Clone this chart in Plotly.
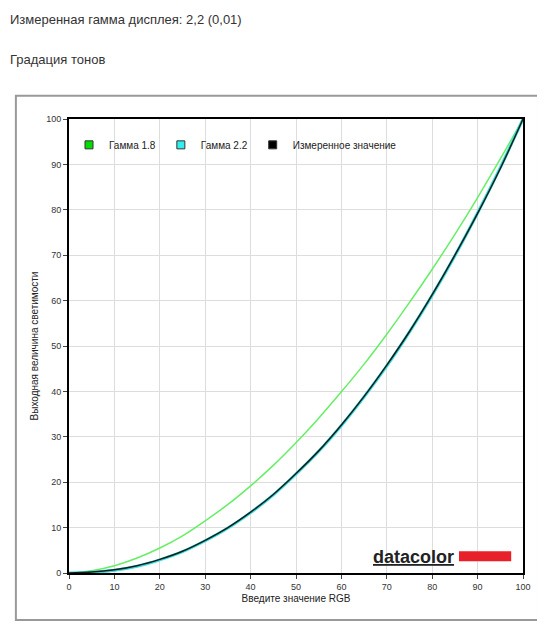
import plotly.graph_objects as go

rgb = [0, 5, 10, 15, 20, 25, 30, 35, 40, 45, 50, 55, 60, 65, 70, 75, 80, 85, 90, 95, 100]
gamma18 = [0, 0.5, 1.6, 3.3, 5.5, 8.2, 11.5, 15.1, 19.2, 23.7, 28.7, 34.1, 39.9, 46.0, 52.6, 59.6, 66.9, 74.6, 82.7, 91.2, 100]
gamma22 = [0, 0.15, 0.6, 1.5, 2.9, 4.7, 7.1, 9.9, 13.3, 17.2, 21.8, 26.8, 32.5, 38.8, 45.6, 53.1, 61.2, 69.9, 79.3, 89.3, 100]
measured = [0, 0.2, 0.7, 1.6, 3.0, 4.8, 7.2, 10.0, 13.4, 17.3, 21.9, 26.9, 32.6, 38.9, 45.8, 53.2, 61.3, 70.0, 79.2, 89.1, 100]

fig = go.Figure()
fig.add_trace(go.Scatter(x=rgb, y=gamma18, mode="lines", line=dict(color="#66ee66", width=1.5, shape="spline"), showlegend=False))
fig.add_trace(go.Scatter(x=rgb, y=gamma22, mode="lines", line=dict(color="#33dddd", width=3, shape="spline"), showlegend=False))
fig.add_trace(go.Scatter(x=rgb, y=measured, mode="lines", line=dict(color="#1a1a1a", width=1.5, shape="spline"), showlegend=False))

# legend entries with square markers
for name, col in [("Гамма 1.8", "#00dd00"), ("Гамма 2.2", "#33eeee"), ("Измеренное значение", "#000000")]:
    fig.add_trace(go.Scatter(x=[None], y=[None], mode="markers", name=name,
                             marker=dict(symbol="square", size=8, color=col, line=dict(color="#333", width=1))))

# outer frame
fig.add_shape(type="rect", xref="paper", yref="paper", x0=-0.117, x1=1.033, y0=-0.1035, y1=1.051,
              line=dict(color="#999", width=2), layer="below")

# datacolor logo
fig.add_annotation(x=75.8, y=3.6, xref="x", yref="y", text="<b><u>datacolor</u></b>", showarrow=False,
                   font=dict(family="Liberation Sans", size=18, color="#222"))
fig.add_shape(type="rect", x0=85.9, x1=97.4, y0=2.6, y1=4.8, fillcolor="#e8202a", line=dict(width=0))

fig.add_annotation(x=0, y=1, xref="paper", yref="paper", xanchor="left", yanchor="top", showarrow=False,
                   text="Измеренная гамма дисплея: 2,2 (0,01)", font=dict(size=13, color="#333"),
                   xshift=-61, yshift=109)
fig.add_annotation(x=0, y=1, xref="paper", yref="paper", xanchor="left", yanchor="top", showarrow=False,
                   text="Градация тонов", font=dict(size=13, color="#333"),
                   xshift=-61, yshift=69)

axis = dict(range=[0, 100], dtick=10, showgrid=True, gridcolor="#dddddd", ticks="outside", ticklen=4,
            showline=True, linecolor="#000", linewidth=2, mirror=True, zeroline=False, automargin=False,
            tickfont=dict(size=9, color="#333"), fixedrange=True)
fig.update_layout(
    width=545, height=630,
    margin=dict(l=61, r=30, t=111, b=65),
    paper_bgcolor="white", plot_bgcolor="white",
    font=dict(family="Liberation Sans", color="#222"),
    xaxis=dict(axis, title=dict(text="Введите значение RGB", font=dict(size=10), standoff=4)),
    yaxis=dict(axis, title=dict(text="Выходная величина светимости", font=dict(size=10), standoff=6)),
    legend=dict(orientation="h", x=0.0, y=0.975, xanchor="left", yanchor="top", bgcolor="rgba(0,0,0,0)",
                font=dict(size=10), itemwidth=30, tracegroupgap=0),
)
fig.write_html("out.html")
